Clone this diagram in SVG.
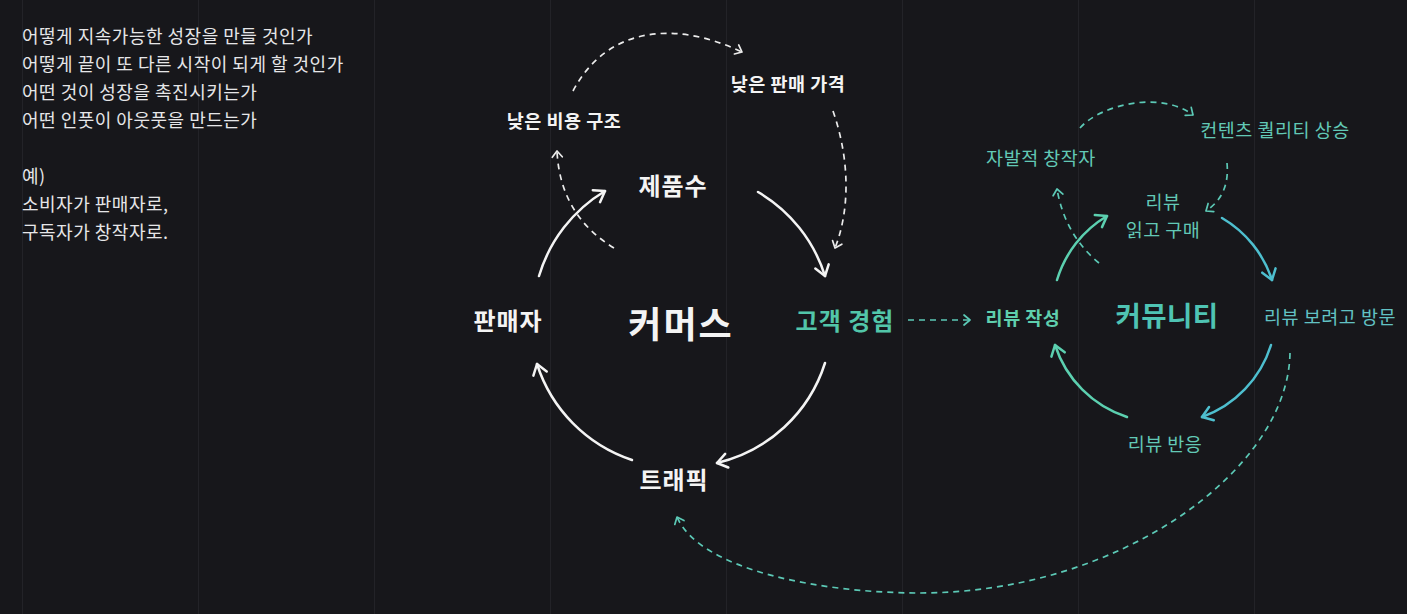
<svg xmlns="http://www.w3.org/2000/svg" width="1407" height="614" viewBox="0 0 1407 614">
<style>
text{font-family:"Noto Sans CJK KR","Noto Sans",sans-serif}
.note{font-size:18px;letter-spacing:0.5px;fill:#e6e6e8}
.w{fill:#f4f4f4;text-anchor:middle}
.t{fill:#62c9b6;text-anchor:middle}
.b{font-weight:700}
.m{font-size:24px;letter-spacing:1px}
.s{font-size:18.5px;letter-spacing:0.5px}
.grid{stroke:#232328;stroke-width:1}
.sw{fill:none;stroke:#f4f4f4;stroke-width:2.5;stroke-linecap:round}
.dw{fill:none;stroke:#ececec;stroke-width:1.7;stroke-dasharray:6 5}
.sg{fill:none;stroke:#5cd0b0;stroke-width:2.5;stroke-linecap:round}
.sc{fill:none;stroke:#4ebfcf;stroke-width:2.5;stroke-linecap:round}
.dt{fill:none;stroke:#5cc9b6;stroke-width:1.7;stroke-dasharray:6 5}
</style>
<defs>
<marker id="mw" viewBox="-14 -10 16 20" refX="0" refY="0" markerWidth="16" markerHeight="20" markerUnits="userSpaceOnUse" orient="auto" overflow="visible"><path d="M-10,-7 L0,0 L-10,7" fill="none" stroke="#f4f4f4" stroke-width="2.5" stroke-linecap="round" stroke-linejoin="round"/></marker>
<marker id="mg" viewBox="-14 -10 16 20" refX="0" refY="0" markerWidth="16" markerHeight="20" markerUnits="userSpaceOnUse" orient="auto" overflow="visible"><path d="M-10,-7 L0,0 L-10,7" fill="none" stroke="#5cd0b0" stroke-width="2.5" stroke-linecap="round" stroke-linejoin="round"/></marker>
<marker id="mc" viewBox="-14 -10 16 20" refX="0" refY="0" markerWidth="16" markerHeight="20" markerUnits="userSpaceOnUse" orient="auto" overflow="visible"><path d="M-10,-7 L0,0 L-10,7" fill="none" stroke="#4ebfcf" stroke-width="2.5" stroke-linecap="round" stroke-linejoin="round"/></marker>
<marker id="mdw" viewBox="-10 -8 12 16" refX="0" refY="0" markerWidth="12" markerHeight="16" markerUnits="userSpaceOnUse" orient="auto" overflow="visible"><path d="M-6,-5 L0,0 L-6,5" fill="none" stroke="#ececec" stroke-width="1.7" stroke-linecap="round" stroke-linejoin="round"/></marker>
<marker id="mdt" viewBox="-10 -8 12 16" refX="0" refY="0" markerWidth="12" markerHeight="16" markerUnits="userSpaceOnUse" orient="auto" overflow="visible"><path d="M-6,-5 L0,0 L-6,5" fill="none" stroke="#5cc9b6" stroke-width="1.7" stroke-linecap="round" stroke-linejoin="round"/></marker>
</defs>
<rect width="1407" height="614" fill="#17171b"/>
<g id="grid">
<line class="grid" x1="22.5" y1="0" x2="22.5" y2="614"/>
<line class="grid" x1="198.5" y1="0" x2="198.5" y2="614"/>
<line class="grid" x1="374.5" y1="0" x2="374.5" y2="614"/>
<line class="grid" x1="550.5" y1="0" x2="550.5" y2="614"/>
<line class="grid" x1="726.5" y1="0" x2="726.5" y2="614"/>
<line class="grid" x1="902.5" y1="0" x2="902.5" y2="614"/>
<line class="grid" x1="1078.5" y1="0" x2="1078.5" y2="614"/>
<line class="grid" x1="1254.5" y1="0" x2="1254.5" y2="614"/>
</g>
<g id="notes" class="note">
<text x="22" y="43">어떻게 지속가능한 성장을 만들 것인가</text>
<text x="22" y="71">어떻게 끝이 또 다른 시작이 되게 할 것인가</text>
<text x="22" y="99">어떤 것이 성장을 촉진시키는가</text>
<text x="22" y="127">어떤 인풋이 아웃풋을 만드는가</text>
<text x="22" y="183">예)</text>
<text x="22" y="211">소비자가 판매자로,</text>
<text x="22" y="239">구독자가 창작자로.</text>
</g>
<g id="connectors">
<path class="sw" d="M539,276 A149,149 0 0 1 605,191" marker-end="url(#mw)"/>
<path class="sw" d="M758,192 A149,149 0 0 1 825,276" marker-end="url(#mw)"/>
<path class="sw" d="M825,363 A149,149 0 0 1 717,463" marker-end="url(#mw)"/>
<path class="sw" d="M632,460 A149,149 0 0 1 537,364" marker-end="url(#mw)"/>
<path class="dw" d="M614,248 Q560,215 557,151" marker-end="url(#mdw)"/>
<path class="dw" d="M573,91 C605,30 670,18 742,52" marker-end="url(#mdw)"/>
<path class="dw" d="M833,111 C850,160 850,210 835,248" marker-end="url(#mdw)"/>
<path class="sg" d="M1057,280 A112,112 0 0 1 1107,216" marker-end="url(#mg)"/>
<path class="sc" d="M1222,218 A112,112 0 0 1 1272,280" marker-end="url(#mc)"/>
<path class="sc" d="M1271,345 A112,112 0 0 1 1202,417" marker-end="url(#mc)"/>
<path class="sg" d="M1127,417 A112,112 0 0 1 1055,345" marker-end="url(#mg)"/>
<path class="dt" d="M908,320 L970,320" marker-end="url(#mdt)"/>
<path class="dt" d="M1099,263 Q1065,235 1057,189" marker-end="url(#mdt)"/>
<path class="dt" d="M1080,128 C1100,105 1160,90 1193,115" marker-end="url(#mdt)"/>
<path class="dt" d="M1227,163 C1229,185 1222,200 1206,211" marker-end="url(#mdt)"/>
<path class="dt" d="M1290,353 C1288,470 1120,593 920,593 C820,593 700,570 677,517" marker-end="url(#mdt)"/>
</g>
<g id="commerce"><text class="w b" x="681" y="338" font-size="36" letter-spacing="2">커머스</text></g>
<g id="seller"><text class="w b m" x="508" y="330">판매자</text></g>
<g id="products"><text class="w b m" x="673" y="195">제품수</text></g>
<g id="cx"><text class="t b m" x="845" y="330" style="fill:#52c6a9">고객 경험</text></g>
<g id="traffic"><text class="w b m" x="674" y="489">트래픽</text></g>
<g id="lowcost"><text class="w b s" x="564" y="128">낮은 비용 구조</text></g>
<g id="lowprice"><text class="w b s" x="788" y="91">낮은 판매 가격</text></g>
<g id="community"><text class="t b" x="1167" y="326" font-size="27.5" letter-spacing="0.5" style="fill:#4fc4b4">커뮤니티</text></g>
<g id="write"><text class="t b s" x="1023" y="325" style="fill:#5fcfae">리뷰 작성</text></g>
<g id="creator"><text class="t s" x="1041" y="165">자발적 창작자</text></g>
<g id="quality"><text class="t s" x="1275" y="137">컨텐츠 퀄리티 상승</text></g>
<g id="read"><text class="t s" x="1163" y="209">리뷰</text><text class="t s" x="1163" y="237">읽고 구매</text></g>
<g id="visit"><text class="t s" x="1330" y="324" style="fill:#62c2c4">리뷰 보려고 방문</text></g>
<g id="react"><text class="t s" x="1165" y="451">리뷰 반응</text></g>
</svg>
